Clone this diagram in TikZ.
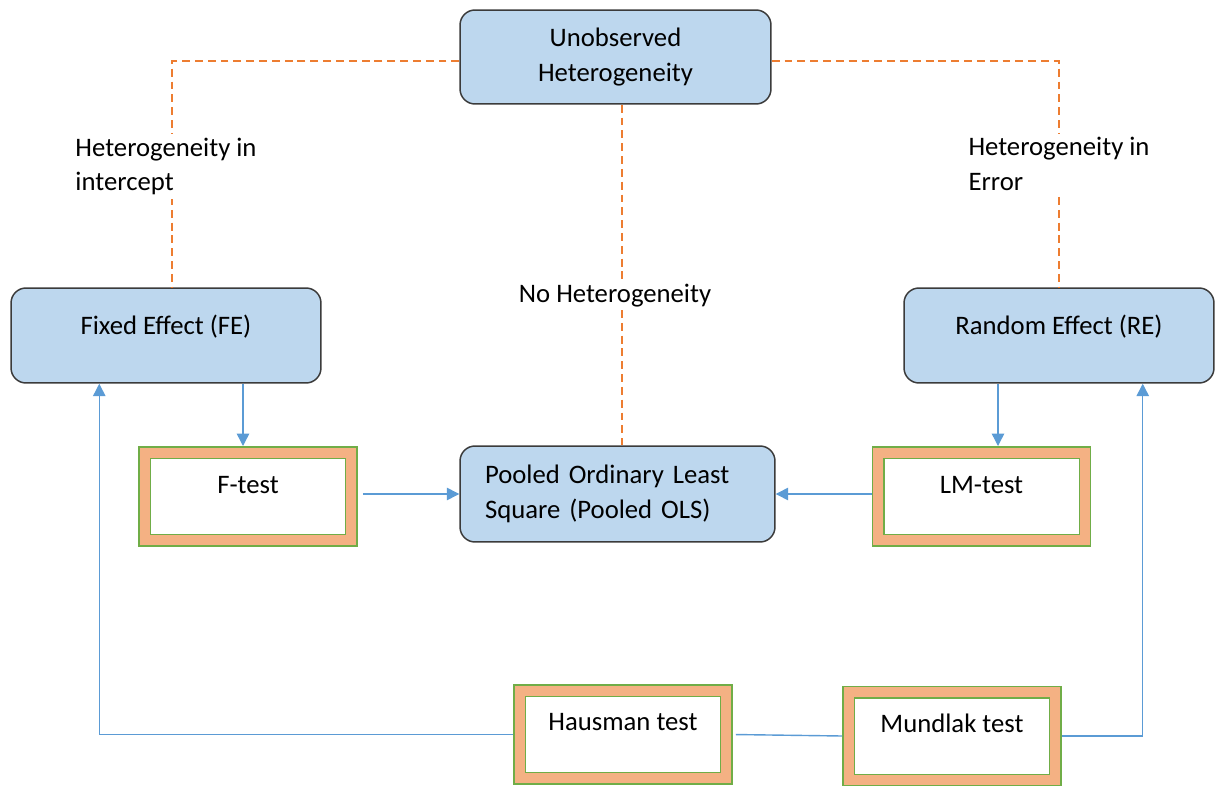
\documentclass[tikz,border=0pt]{standalone}
\usepackage{fontspec}
\setmainfont{Carlito}
\usetikzlibrary{arrows.meta,calc}
\definecolor{boxblue}{HTML}{BDD7EE}
\definecolor{boxedge}{HTML}{3B3B3B}
\definecolor{flowblue}{HTML}{5B9BD5}
\definecolor{testorange}{HTML}{F4B183}
\definecolor{testgreen}{HTML}{70AD47}
\definecolor{hetorange}{HTML}{ED7D31}
\begin{document}
\begin{tikzpicture}[x=0.02cm, y=-0.02cm, font=\fontsize{15.2}{19.8}\selectfont,
  model/.style = {draw=boxedge, fill=boxblue, line width=0.85pt, rounded corners=0.3cm, align=center, inner sep=0pt},
  testbox/.style = {draw=testgreen, double=testorange, line width=0.85pt, double distance=0.2cm, fill=white,
    minimum width=4.14cm, minimum height=1.76cm, outer sep=0.13cm, text height=11pt, text depth=14pt},
  flow/.style = {draw=flowblue, line width=0.8pt, -{Triangle[width=7pt,length=7pt]}},
  link/.style = {draw=flowblue, line width=0.8pt},
  het/.style = {draw=hetorange, line width=0.6pt, dash pattern=on 4.5pt off 2.8pt},
  hetlabel/.style = {fill=white, align=left, inner sep=2pt}]
\useasboundingbox (0,0) rectangle (1217,787);

\node[model, minimum width=6.22cm, minimum height=1.88cm] (top) at (615.5,57) {Unobserved\\Heterogeneity};
\node[model, minimum width=6.2cm, minimum height=1.9cm, text height=11pt, text depth=12pt] (fe) at (166,335.5) {Fixed Effect (FE)};
\node[model, minimum width=6.2cm, minimum height=1.9cm, text height=11pt, text depth=12pt] (re) at (1059,335.5) {Random Effect (RE)};
\node[model, minimum width=6.3cm, minimum height=1.92cm, text width=5.3cm, align=left] (pooled) at (617.5,494) {Pooled Ordinary Least\\Square (Pooled OLS)};

\node[testbox] (ftest) at (248,496.5) {F-test};
\node[testbox] (lm) at (981.5,496.5) {LM-test};
\node[testbox, text depth=15pt] (haus) at (623,734.5) {Hausman test};
\node[testbox, text depth=15pt] (mund) at (952,736) {Mundlak test};

% heterogeneity
\draw[het] ([yshift=-0.08cm]top.west) -| node[hetlabel, pos=0.733, xshift=-0.12cm] {Heterogeneity in\\intercept} ([xshift=0.12cm]fe.north);
\draw[het] ([yshift=-0.08cm]top.east) -| node[hetlabel, pos=0.728] {Heterogeneity in\\Error} (re.north);
\draw[het] ([xshift=0.13cm]top.south) -- node[hetlabel, pos=0.56, xshift=-0.14cm] {No Heterogeneity} ([xshift=0.13cm]top.south |- pooled.north);

% tests
\draw[flow] ([xshift=-0.1cm]ftest.north |- fe.south) -- ([xshift=-0.1cm]ftest.north);
\draw[flow] ([xshift=0.33cm]lm.north |- re.south) -- ([xshift=0.33cm]lm.north);
\draw[flow, shorten <=0.1cm] (ftest.east |- pooled.west) -- (pooled.west);
\draw[flow] (lm.west |- pooled.east) -- (pooled.east);
\draw[flow] (haus.west) -| ([xshift=1.78cm]fe.south west);
\draw[link, shorten <=0.06cm] (haus.east) -- (mund.west);
\draw[flow] (mund.east) -| ([xshift=-1.44cm]re.south east);
\end{tikzpicture}
\end{document}
